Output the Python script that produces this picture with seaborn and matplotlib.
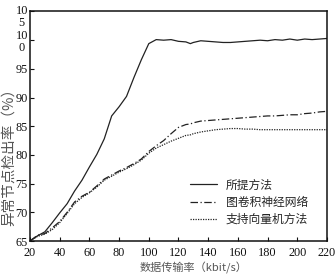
import numpy as np
import pandas as pd
import matplotlib
matplotlib.use("Agg")
import matplotlib.pyplot as plt
import matplotlib.transforms as mtransforms
import seaborn as sns

# data
rate = [20, 25, 30, 35, 40, 45, 50, 55, 60, 65, 70, 75, 80, 85, 90, 95, 100,
        105, 110, 115, 120, 125, 128, 130, 135, 140, 145, 150, 155, 160, 165,
        170, 175, 180, 185, 190, 195, 200, 205, 210, 215, 220]
proposed = [65.0, 65.9, 66.6, 68.2, 69.9, 71.5, 73.7, 75.6, 77.9, 80.1, 82.8,
            86.8, 88.4, 90.2, 93.5, 96.6, 99.4,
            100.1, 100.0, 100.1, 99.8, 99.7, 99.4, 99.6, 99.9, 99.8, 99.7,
            99.6, 99.6, 99.7, 99.8, 99.9, 100.0, 99.9, 100.1, 100.0, 100.2,
            100.0, 100.2, 100.1, 100.2, 100.3]
gcn = [65.0, 66.0, 66.3, 67.3, 68.4, 70.0, 71.8, 72.8, 73.5, 74.6, 75.8,
       76.5, 77.2, 77.8, 78.5, 79.3, 80.6,
       81.6, 82.5, 83.7, 84.8, 85.3, 85.4, 85.6, 85.9, 86.0, 86.1, 86.2,
       86.3, 86.4, 86.5, 86.6, 86.7, 86.8, 86.8, 86.9, 87.0, 87.0, 87.2,
       87.3, 87.5, 87.6]
svm = [65.0, 65.8, 66.2, 67.0, 68.2, 69.8, 71.5, 72.6, 73.4, 74.4, 75.6,
       76.3, 77.0, 77.6, 78.3, 79.1, 80.3,
       81.2, 81.8, 82.4, 82.9, 83.4, 83.5, 83.7, 84.0, 84.2, 84.4, 84.5,
       84.6, 84.6, 84.5, 84.5, 84.4, 84.4, 84.4, 84.4, 84.4, 84.4, 84.4,
       84.4, 84.4, 84.4]
labels = ["所提方法", "图卷积神经网络", "支持向量机方法"]
yticks = [65, 70, 75, 80, 85, 90, 95, 100, 105]
ytickLabels = ["65", "70", "75", "80", "85", "90", "95", "10\n0", "10\n5"]
xticks = list(range(20, 221, 20))

sns.set_style("ticks")
plt.rcParams["font.family"] = ["Noto Sans CJK SC", "DejaVu Sans"]

fig = plt.figure(figsize=(3.36, 2.75), dpi=100)
ax = fig.add_axes([0.0893, 0.1236, 0.8838, 0.8346])

styles = ["-", (0, (6, 2, 1, 2)), (0, (1, 1))]
for series, name, ls in zip([proposed, gcn, svm], labels, styles):
    sns.lineplot(x=rate, y=series, ax=ax, color="#222222", linewidth=0.9,
                 linestyle=ls, label=name)

ax.set_xlim(20, 220)
ax.set_ylim(65, 105)
ax.set_xticks(xticks)
ax.set_yticks(yticks)
ax.set_xticklabels([str(t) for t in xticks], family="Liberation Serif",
                   fontsize=8.8)
ax.set_yticklabels(ytickLabels, family="Liberation Serif", fontsize=8.8,
                   linespacing=1.0, multialignment="center")
ax.tick_params(direction="in", length=3, width=0.8, colors="#111111")
ax.tick_params(axis="x", pad=4)
ax.tick_params(axis="y", pad=1.5)
# top label sits a bit lower in the reference
topLab = ax.get_yticklabels()[-1]
topLab.set_transform(topLab.get_transform() +
                     mtransforms.ScaledTranslation(0, -4.5 / 100, fig.dpi_scale_trans))
for s in ax.spines.values():
    s.set_linewidth(1.1)
    s.set_color("#111111")

ax.set_xlabel("数据传输率（kbit/s）", fontsize=8, color="#555555")
ax.xaxis.set_label_coords(0.5505, -0.0915)
ax.set_ylabel("异常节点检出率（%）", fontsize=10.5, color="#555555",
              va="center")
ax.yaxis.set_label_coords(-0.072, 0.383)

leg = ax.legend(loc="upper left", bbox_to_anchor=(0.52, 0.298), frameon=False,
                fontsize=8.5, handlelength=2.3, handletextpad=0.7,
                labelspacing=0.35, borderpad=0)

fig.savefig("out.png", dpi=100)
